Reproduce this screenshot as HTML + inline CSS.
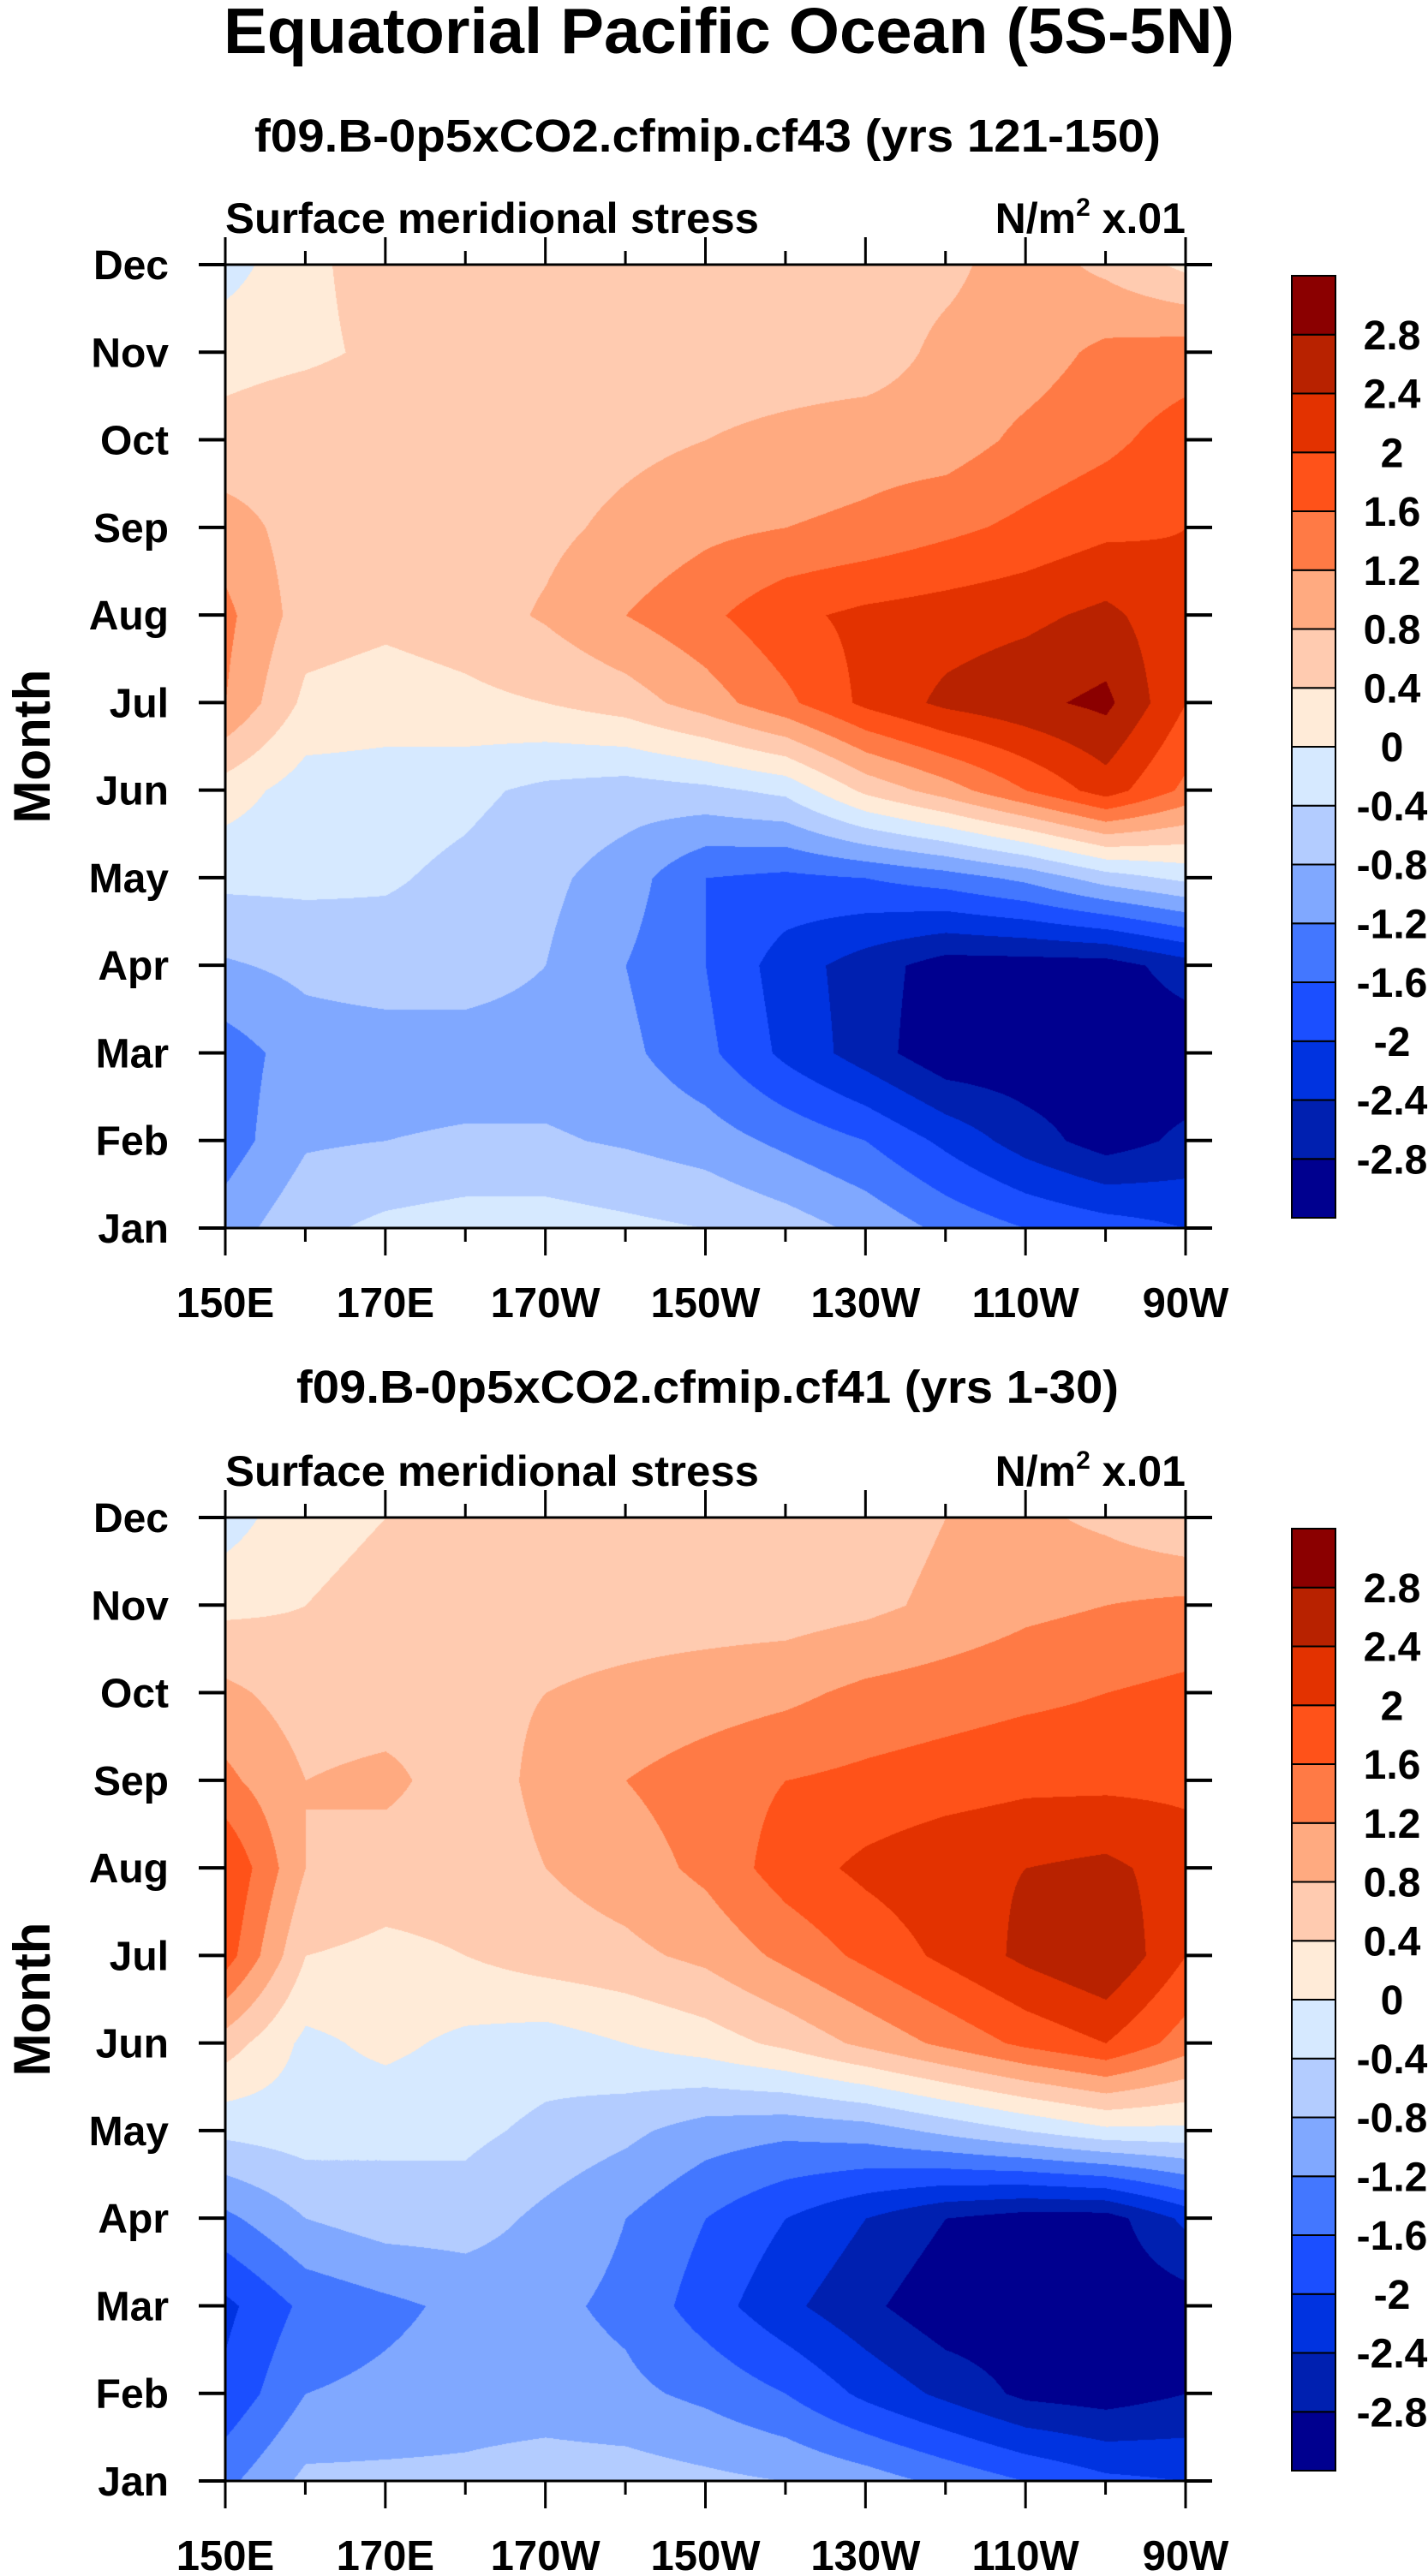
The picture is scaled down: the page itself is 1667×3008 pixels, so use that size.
<!DOCTYPE html>
<html><head><meta charset="utf-8"><style>
html,body{margin:0;padding:0;background:#fff;}
#wrap{position:relative;width:1667px;height:3008px;overflow:hidden;}
canvas{position:absolute;}
svg{position:absolute;left:0;top:0;}
text{font-family:"Liberation Sans",Arial,sans-serif;font-weight:bold;fill:#000;}
</style></head><body>
<div id="wrap">
<canvas id="c1"></canvas>
<canvas id="c2"></canvas>
<svg id="svg" width="1667" height="3008"></svg>
</div>
<script>
// ---- data ----
const months = ["Jan","Feb","Mar","Apr","May","Jun","Jul","Aug","Sep","Oct","Nov","Dec"];
const lons = [150,160,170,180,190,200,210,220,230,240,250,260,270];
const xTickLons = [150,170,190,210,230,250,270];
const xTickLabels = ["150E","170E","170W","150W","130W","110W","90W"];
const levels = [-2.8,-2.4,-2,-1.6,-1.2,-0.8,-0.4,0,0.4,0.8,1.2,1.6,2,2.4,2.8];
const levelLabels = ["-2.8","-2.4","-2","-1.6","-1.2","-0.8","-0.4","0","0.4","0.8","1.2","1.6","2","2.4","2.8"];
const colors = ["#00008f","#0020b0","#0033e0","#1b4fff","#4377ff","#80a8ff","#b3ccff","#d6e9ff","#ffebd8","#ffcbb0","#ffaa80","#ff7a45","#ff5219","#e33200","#b82200","#8b0000"];
// rows Jan..Dec, columns 150E..90W every 10 deg
const valuesCf43 = [
 [-1.0,-0.5,-0.3,-0.2,-0.2,-0.3,-0.4,-0.6,-0.9,-1.3,-1.6,-1.8,-2.0],
 [-1.4,-0.85,-0.8,-0.75,-0.75,-0.85,-1.0,-1.3,-1.6,-2.1,-2.6,-3.0,-2.7],
 [-1.4,-1.0,-1.0,-1.0,-1.0,-1.1,-1.5,-2.1,-2.6,-3.1,-3.1,-3.1,-3.1],
 [-0.85,-0.7,-0.6,-0.6,-0.8,-1.2,-1.6,-2.2,-2.6,-3.0,-3.0,-3.0,-2.6],
 [-0.3,-0.3,-0.35,-0.5,-0.7,-1.0,-1.6,-1.7,-1.6,-1.4,-1.1,-0.6,-0.3],
 [0.2,-0.2,-0.2,-0.3,-0.5,-0.6,-0.5,-0.3,0.5,1.0,1.6,2.2,1.5],
 [1.2,0.3,0.2,0.3,0.4,0.6,1.0,1.5,2.1,2.5,2.7,2.9,2.0],
 [1.3,0.6,0.5,0.6,0.85,1.2,1.5,1.9,2.1,2.2,2.3,2.5,2.1],
 [1.0,0.6,0.6,0.6,0.7,0.9,1.1,1.2,1.3,1.5,1.7,1.9,2.0],
 [0.5,0.6,0.6,0.6,0.6,0.7,0.8,0.9,1.0,1.0,1.3,1.5,1.8],
 [0.3,0.35,0.45,0.6,0.6,0.6,0.6,0.6,0.6,0.9,1.0,1.3,1.4],
 [-0.2,0.35,0.5,0.55,0.6,0.6,0.6,0.6,0.6,0.7,1.0,0.7,0.3]
];
const valuesCf41 = [
 [-1.3,-0.7,-0.7,-0.7,-0.6,-0.6,-0.7,-0.8,-1.0,-1.3,-1.6,-1.9,-2.0],
 [-1.9,-1.2,-1.1,-1.0,-1.0,-1.1,-1.3,-1.6,-2.1,-2.5,-2.9,-3.0,-2.8],
 [-2.1,-1.5,-1.3,-1.1,-1.1,-1.3,-1.8,-2.3,-2.7,-3.1,-3.1,-3.1,-3.0],
 [-1.3,-0.8,-0.6,-0.6,-0.9,-1.2,-1.6,-2.0,-2.4,-2.8,-3.0,-3.0,-2.3],
 [-0.3,-0.2,-0.3,-0.3,-0.5,-0.7,-1.0,-1.1,-1.0,-0.7,-0.4,-0.1,-0.1],
 [0.6,-0.1,0.1,-0.1,-0.2,0.0,0.2,0.5,0.9,1.3,1.7,2.0,1.4],
 [1.8,0.4,0.3,0.4,0.6,0.7,0.9,1.3,1.7,2.1,2.5,2.8,2.0],
 [2.0,0.8,0.6,0.6,0.8,1.0,1.3,1.8,2.1,2.3,2.4,2.5,2.2],
 [1.3,0.8,0.9,0.6,0.9,1.2,1.4,1.6,1.7,1.8,1.9,1.9,1.9],
 [0.9,0.6,0.6,0.7,0.8,0.9,1.0,1.1,1.3,1.4,1.5,1.6,1.7],
 [0.3,0.4,0.5,0.6,0.6,0.6,0.6,0.6,0.7,0.9,1.1,1.2,1.3],
 [-0.2,0.3,0.4,0.5,0.6,0.6,0.6,0.6,0.6,0.8,0.9,0.7,0.4]
];
// ---- layout ----
const NS="http://www.w3.org/2000/svg";
const svg=document.getElementById('svg');
const L=263,R=1384,PW=R-L;
function mk(tag,attrs,parent){const e=document.createElementNS(NS,tag);for(const k in attrs)e.setAttribute(k,attrs[k]);(parent||svg).appendChild(e);return e;}
function txt(s,x,y,size,anchor,fit,parent){const t=mk('text',{x:x,y:y,'font-size':size,'text-anchor':anchor||'start'},parent);if(fit){t.setAttribute('textLength',fit);t.setAttribute('lengthAdjust','spacingAndGlyphs');}t.textContent=s;return t;}

let t=txt("Equatorial Pacific Ocean (5S-5N)",851,62,75,'middle',1180);


function panel(canvasId,vals,top,bottom,subtitle,subBase,subFit,name,cbTop,cbBot){
  const PH=bottom-top;
  const xs=lon=>L+(lon-150)/120*PW;
  const ys=m=>bottom-m/11*PH;
  const g=mk('g',{});
  
  
  const cv=document.getElementById(canvasId);
  cv.width=PW;cv.height=PH;cv.style.left=L+'px';cv.style.top=top+'px';
  const ctx=cv.getContext('2d');
  const img=ctx.createImageData(PW,PH);
  const rgb=colors.map(c=>[parseInt(c.slice(1,3),16),parseInt(c.slice(3,5),16),parseInt(c.slice(5,7),16)]);
  for(let py=0;py<PH;py++){
    const mf=(PH-py)/PH*11;const m0=Math.min(10,Math.floor(mf));const fy=mf-m0;
    for(let px=0;px<PW;px++){
      const lf=px/PW*12;const l0=Math.min(11,Math.floor(lf));const fx=lf-l0;
      const v=(vals[m0][l0]*(1-fx)+vals[m0][l0+1]*fx)*(1-fy)+(vals[m0+1][l0]*(1-fx)+vals[m0+1][l0+1]*fx)*fy;
      let i=0;while(i<levels.length&&v>=levels[i])i++;
      const c=rgb[i];const o=(py*PW+px)*4;
      img.data[o]=c[0];img.data[o+1]=c[1];img.data[o+2]=c[2];img.data[o+3]=255;
    }
  }
  ctx.putImageData(img,0,0);
  let s=txt(subtitle,826,subBase,54,'middle',subFit,g);
  
  s=txt("Surface meridional stress",L,top-37,50,'start',623,g);
  
  s=mk('text',{x:R,y:top-37,'font-size':50,'text-anchor':'end'},g);
  s.innerHTML='N/m<tspan dy="-20" font-size="30">2</tspan><tspan dy="20"> x.01</tspan>';
  
  const fr=mk('rect',{x:L,y:top,width:PW,height:PH,fill:'none',stroke:'#000','stroke-width':3},g);
  
  months.forEach((mn,i)=>{
    const y=ys(i);
    mk('line',{x1:L-31,x2:L,y1:y,y2:y,stroke:'#000','stroke-width':4},g);
    mk('line',{x1:R,x2:R+31,y1:y,y2:y,stroke:'#000','stroke-width':4},g);
    const tl=txt(mn,197,y+17,48,'end',null,g);
    
  });
  for(let lon=150;lon<=270;lon+=10){
    const x=xs(lon);const major=(lon-150)%20===0;
    mk('line',{x1:x,x2:x,y1:bottom,y2:bottom+(major?32:16),stroke:'#000','stroke-width':3},g);
    mk('line',{x1:x,x2:x,y1:top,y2:top-(major?32:16),stroke:'#000','stroke-width':3},g);
  }
  xTickLons.forEach((lon,i)=>{
    const tl=txt(xTickLabels[i],xs(lon),bottom+104,49,'middle',null,g);
    
  });
  const yt=txt("Month",0,0,60,'middle',null,g);
  yt.setAttribute('transform',`translate(58,${(top+bottom)/2}) rotate(-90)`);
  
  const cb=mk('g',{},g);
  
  const n=colors.length;const h=(cbBot-cbTop)/n;
  for(let i=0;i<n;i++){
    const r=mk('rect',{x:1508,y:cbTop+(n-1-i)*h,width:51,height:h,fill:colors[i],stroke:'#000','stroke-width':2},cb);
    
  }
  levelLabels.forEach((lb,i)=>{
    const y=cbTop+(n-1-i)*h;
    const tl=txt(lb,1625,y+17,48,'middle',null,cb);
    
  });
}
panel('c1',valuesCf43,309,1434,"f09.B-0p5xCO2.cfmip.cf43 (yrs 121-150)",177,1058,'panel-cf43',322,1422);
panel('c2',valuesCf41,1772,2897,"f09.B-0p5xCO2.cfmip.cf41 (yrs 1-30)",1638,960,'panel-cf41',1785,2885);
</script>
</body></html>
